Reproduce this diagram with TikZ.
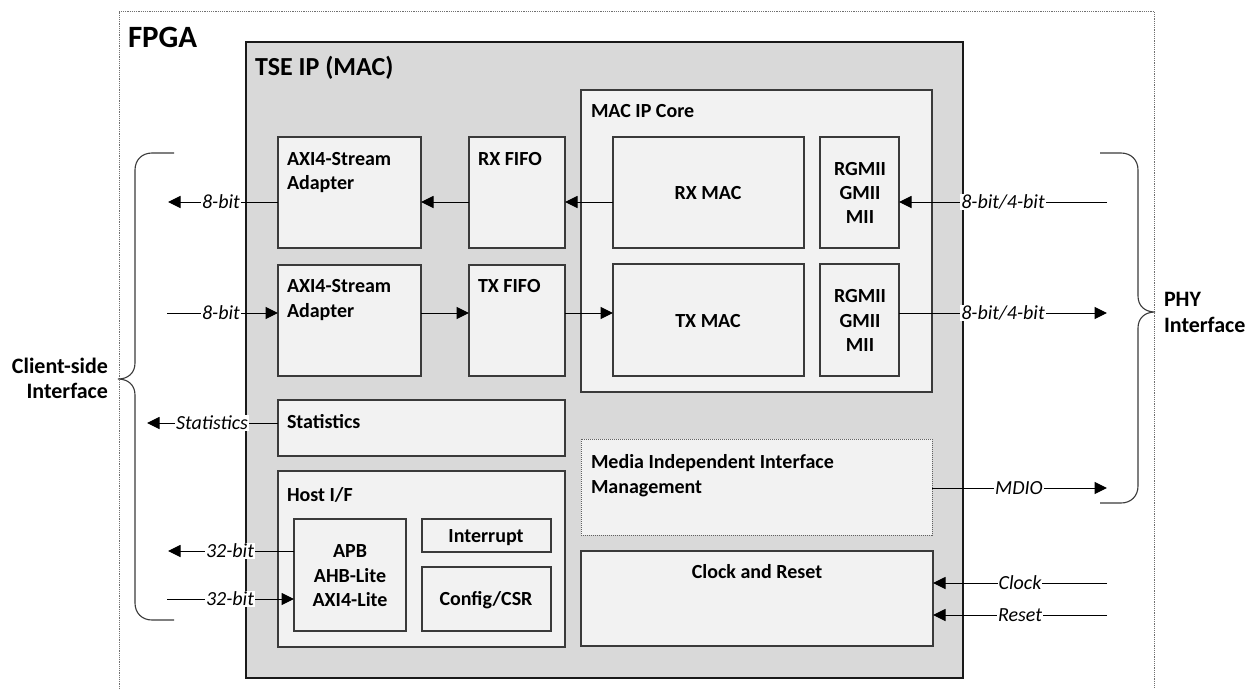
\documentclass[tikz,border=0pt]{standalone}
\usepackage{fontspec}
\setmainfont{Carlito}
\usetikzlibrary{arrows.meta}
\definecolor{tsefill}{HTML}{D9D9D9}
\definecolor{blockfill}{HTML}{F2F2F2}
\definecolor{blockline}{HTML}{3A3A3A}
\definecolor{framegray}{HTML}{707070}
\begin{document}
\begin{tikzpicture}[x=1pt,y=-1pt,
  every node/.style={inner sep=0pt, outer sep=0pt},
  body/.style={font=\fontsize{20}{24}\selectfont\bfseries},
  blk/.style={draw=blockline, fill=blockfill, line width=1.1pt, anchor=north west},
  sig/.style={font=\fontsize{20}{24}\selectfont\itshape, fill=white, inner xsep=1pt, inner ysep=1pt, text height=13pt, text depth=1pt},
  flow/.style={line width=1pt, -{Triangle[length=12.5pt,width=12pt]}},
  wire/.style={line width=1pt},
  bracket/.style={line width=1.1pt, draw=blockline},
]
\useasboundingbox (0,0) rectangle (1259,689);

% FPGA frame (open at the bottom)
\draw[framegray, line width=1pt, dash pattern=on 1.2pt off 1pt] (119,689) -- (119,11) -- (1154,11) -- (1154,689);
\node[anchor=base west, font=\fontsize{31}{36}\selectfont\bfseries] (fpgalbl) at (128,47) {FPGA};

% TSE IP block
\node[blk, fill=tsefill, draw=black!90, line width=1.3pt, minimum width=717pt, minimum height=636pt] (tse) at (246,42) {};
\node[anchor=base west, font=\fontsize{26}{30}\selectfont\bfseries] (tselbl) at (255,75) {TSE IP (MAC)};

% receive / transmit path blocks
\node[blk, minimum width=143pt, minimum height=111pt] (axirx) at (278,137) {};
\node[blk, minimum width=143pt, minimum height=111pt] (axitx) at (278,265) {};
\node[blk, minimum width=96pt, minimum height=111pt] (rxfifo) at (469,137) {};
\node[blk, minimum width=96pt, minimum height=111pt] (txfifo) at (469,265) {};
\node[blk, minimum width=351pt, minimum height=302pt] (maccore) at (581,90) {};
\node[blk, minimum width=191pt, minimum height=111pt] (rxmac) at (613,137) {};
\node[blk, minimum width=191pt, minimum height=112pt] (txmac) at (613,264) {};
\node[blk, minimum width=79pt, minimum height=111pt] (rgrx) at (820,137) {};
\node[blk, minimum width=79pt, minimum height=112pt] (rgtx) at (820,264) {};

\node[body, anchor=base west] (axirxt1) at (287,165) {AXI4-Stream};
\node[body, anchor=base west] (axirxt2) at (287,189) {Adapter};
\node[body, anchor=base west] (axitxt1) at (287,292) {AXI4-Stream};
\node[body, anchor=base west] (axitxt2) at (287,317) {Adapter};
\node[body, anchor=base west] (rxfifot) at (478,165) {RX FIFO};
\node[body, anchor=base west] (txfifot) at (478,292) {TX FIFO};
\node[body, anchor=base west] (maccoret) at (591,117) {MAC IP Core};
\node[body, anchor=base] (rxmact) at (708,199) {RX MAC};
\node[body, anchor=base] (txmact) at (708,327) {TX MAC};
\node[body, anchor=base] (rgrxt1) at (860,175) {RGMII};
\node[body, anchor=base] (rgrxt2) at (860,199) {GMII};
\node[body, anchor=base] (rgrxt3) at (860,223) {MII};
\node[body, anchor=base] (rgtxt1) at (860,302) {RGMII};
\node[body, anchor=base] (rgtxt2) at (860,327) {GMII};
\node[body, anchor=base] (rgtxt3) at (860,351) {MII};

% statistics and host interface
\node[blk, minimum width=287pt, minimum height=56pt] (stats) at (278,400) {};
\node[blk, minimum width=287pt, minimum height=176pt] (host) at (278,471) {};
\node[blk, minimum width=112pt, minimum height=112pt] (apb) at (294,519) {};
\node[blk, minimum width=129pt, minimum height=33pt] (irq) at (422,519) {};
\node[blk, minimum width=129pt, minimum height=64pt] (csr) at (422,567) {};

\node[body, anchor=base west] (statst) at (287,428) {Statistics};
\node[body, anchor=base west] (hostt) at (287,501) {Host I/F};
\node[body, anchor=base] (apbt1) at (350,557) {APB};
\node[body, anchor=base] (apbt2) at (350,582) {AHB-Lite};
\node[body, anchor=base] (apbt3) at (350,606) {AXI4-Lite};
\node[body, anchor=base] (irqt) at (486,542) {Interrupt};
\node[body, anchor=base] (csrt) at (486,605) {Config/CSR};

% management and clocking
\node[blk, draw=blockline!80, minimum width=351pt, minimum height=96pt, line width=1pt, dash pattern=on 1pt off 1pt] (miim) at (581,439) {};
\node[blk, minimum width=352pt, minimum height=95pt] (clk) at (581,551) {};
\node[body, anchor=base west] (miimt1) at (591,468) {Media Independent Interface};
\node[body, anchor=base west] (miimt2) at (591,493) {Management};
\node[body, anchor=base] (clkt) at (757,578) {Clock and Reset};

% signal rows and free ends
\coordinate (yrx) at (0,202);
\coordinate (ytx) at (0,313);
\coordinate (yst) at (0,423);
\coordinate (yho) at (0,551);
\coordinate (yhi) at (0,599);
\coordinate (ymd) at (0,488);
\coordinate (yck) at (0,583);
\coordinate (yrs) at (0,615);
\coordinate (cl8o) at (168,202);
\coordinate (cl8i) at (167,313);
\coordinate (clst) at (147,423);
\coordinate (cl32o) at (168,551);
\coordinate (cl32i) at (167,599);
\coordinate (phyrx) at (1107,202);
\coordinate (phytx) at (1107,313);
\coordinate (phymd) at (1107,488);
\coordinate (extck) at (1107,583);
\coordinate (extrs) at (1107,615);

% internal data path
\draw[flow] (rxmac.west |- yrx) -- (rxfifo.east |- yrx);
\draw[flow] (rxfifo.west |- yrx) -- (axirx.east |- yrx);
\draw[flow] (axitx.east |- ytx) -- (txfifo.west |- ytx);
\draw[flow] (txfifo.east |- ytx) -- (txmac.west |- ytx);

% client-side signals
\draw[flow] (axirx.west |- yrx) -- (cl8o);
\draw[flow] (cl8i) -- (axitx.west |- ytx);
\draw[flow] (stats.west |- yst) -- (clst);
\draw[flow] (apb.west |- yho) -- (cl32o);
\draw[flow] (cl32i) -- (apb.west |- yhi);
\node[sig] (l8o) at (221,202) {8-bit};
\node[sig] (l8i) at (221,313) {8-bit};
\node[sig] (lst) at (212,423) {Statistics};
\node[sig] (l32o) at (230,551) {32-bit};
\node[sig] (l32i) at (230,599) {32-bit};

% PHY-side signals
\draw[flow] (phyrx) -- (rgrx.east |- yrx);
\draw[flow] (rgtx.east |- ytx) -- (phytx);
\draw[flow] (miim.east |- ymd) -- (phymd);
\draw[flow] (extck) -- (clk.east |- yck);
\draw[flow] (extrs) -- (clk.east |- yrs);
\node[sig] (lrx) at (1003,202) {8-bit/4-bit};
\node[sig] (ltx) at (1003,313) {8-bit/4-bit};
\node[sig] (lmd) at (1019,488) {MDIO};
\node[sig] (lck) at (1020,583) {Clock};
\node[sig] (lrs) at (1020,615) {Reset};

% interface braces
\draw[bracket] (174,153) -- (152,153) .. controls (142,153) and (135,160) .. (135,170)
  -- (135,363) .. controls (135,373) and (128,379) .. (118,379)
  .. controls (128,379) and (135,385) .. (135,395)
  -- (135,603) .. controls (135,613) and (142,620) .. (152,620) -- (174,620);
\draw[bracket] (1100,153) -- (1121,153) .. controls (1131,153) and (1138,160) .. (1138,170)
  -- (1138,296) .. controls (1138,306) and (1145,312) .. (1155,312)
  .. controls (1145,312) and (1138,318) .. (1138,328)
  -- (1138,486) .. controls (1138,496) and (1131,503) .. (1121,503) -- (1100,503);

\node[anchor=base east, font=\fontsize{22}{26}\selectfont\bfseries] (clientt1) at (108,373) {Client-side};
\node[anchor=base east, font=\fontsize{22}{26}\selectfont\bfseries] (clientt2) at (108,398) {Interface};
\node[anchor=base west, font=\fontsize{22}{26}\selectfont\bfseries] (phyt1) at (1164,306) {PHY};
\node[anchor=base west, font=\fontsize{22}{26}\selectfont\bfseries] (phyt2) at (1164,332) {Interface};
\end{tikzpicture}
\end{document}
